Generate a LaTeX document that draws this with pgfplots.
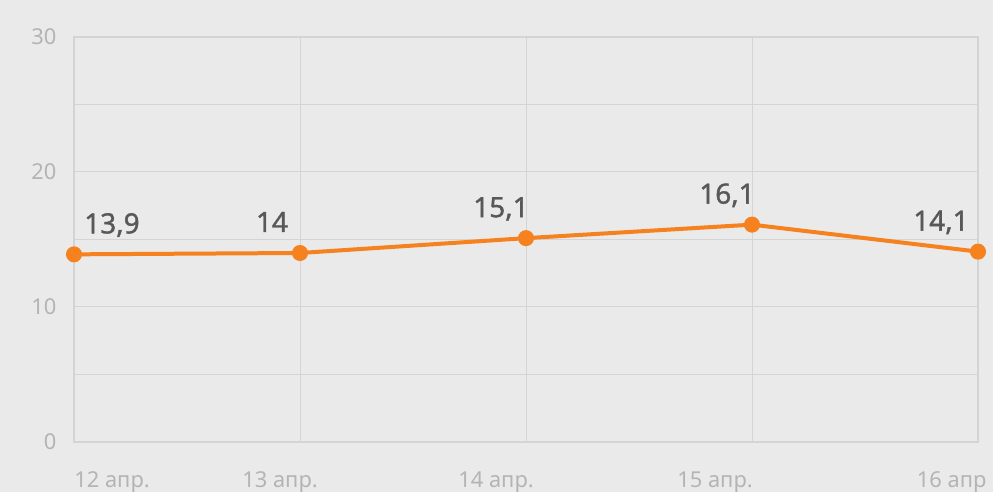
\documentclass[border=0pt]{standalone}
\usepackage{pgfplots}
\pgfplotsset{compat=1.18}
\usepackage{pgfplotstable}
\usepackage{fontspec}
\setmainfont{Noto Sans}
\newfontfamily\lblfont[FakeBold=1.3]{Noto Sans}
\definecolor{bgc}{RGB}{234,234,234}
\definecolor{gridc}{RGB}{212,212,212}
\definecolor{linec}{RGB}{246,130,31}
\definecolor{lblc}{RGB}{88,88,88}
\definecolor{tickc}{RGB}{180,180,180}

\pgfplotstableread{
x y lbl dx
0 13.9 13,9 38
1 14 14 -28
2 15.1 15,1 -25
3 16.1 16,1 -25
4 14.1 14,1 -37
}\temps

\begin{document}
\begin{tikzpicture}
\fill[bgc] (-74bp,-50bp) rectangle (919bp,442bp);
\begin{axis}[
  scale only axis, width=904bp, height=405bp,
  xmin=0, xmax=4, ymin=0, ymax=30,
  xtick={0,...,4}, xticklabels={},
  ytick={0,10,20,30}, minor ytick={5,15,25},
  grid=both,
  major grid style={gridc, line width=1bp},
  minor grid style={gridc, line width=1bp},
  axis line style={gridc, line width=1.2bp},
  tick style={draw=none},
  yticklabel style={tickc, font=\fontsize{22}{26}\selectfont, xshift=-14bp},
  /pgf/number format/assume math mode=true,
  clip=false,
]
\addplot[linec, line width=4bp, mark=*, mark size=6bp,
  mark options={fill=linec, draw=linec},
  nodes near coords, point meta=explicit symbolic,
  visualization depends on={\thisrow{dx}\as\dx},
  every node near coord/.append style={anchor=base, xshift=\dx bp, yshift=21bp,
    text=lblc, font=\lblfont\fontsize{28}{32}\selectfont}
] table[x=x, y=y, meta=lbl] {\temps};
\node[tickc, anchor=base, font=\fontsize{22}{26}\selectfont, xshift=38bp, yshift=-45bp] at (axis cs:0,0) {12 апр.};
\node[tickc, anchor=base, font=\fontsize{22}{26}\selectfont, xshift=-20bp, yshift=-45bp] at (axis cs:1,0) {13 апр.};
\node[tickc, anchor=base, font=\fontsize{22}{26}\selectfont, xshift=-30bp, yshift=-45bp] at (axis cs:2,0) {14 апр.};
\node[tickc, anchor=base, font=\fontsize{22}{26}\selectfont, xshift=-37bp, yshift=-45bp] at (axis cs:3,0) {15 апр.};
\node[tickc, anchor=base east, font=\fontsize{22}{26}\selectfont, xshift=12bp, yshift=-45bp] at (axis cs:4,0) {16 апр};
\end{axis}
\pgfresetboundingbox
\path[use as bounding box] (-74bp,-50bp) rectangle (919bp,442bp);
\end{tikzpicture}
\end{document}
